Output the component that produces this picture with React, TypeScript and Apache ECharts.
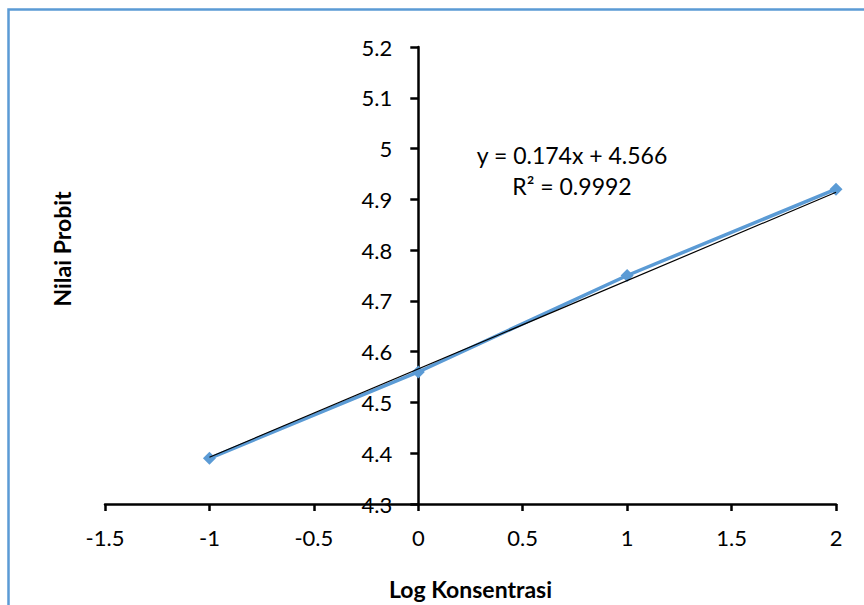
import React, { useEffect, useRef } from "react";
import * as echarts from "echarts";

const logKonsentrasi = [-1, 0, 1, 2];
const nilaiProbit = [4.39, 4.56, 4.75, 4.92];
const slope = 0.174;
const intercept = 4.566;
const trendX = [-1, 2];
const equationLines = ["y = 0.174x + 4.566", "R² = 0.9992"];

const X_MIN = -1.5;
const X_MAX = 2;
const GRID_LEFT = 105;
const GRID_RIGHT = 28;
const CHART_W = 864;

export default function App() {
  const ref = useRef<HTMLDivElement>(null);
  useEffect(() => {
    document.body.style.margin = "0";
    const chart = echarts.init(ref.current!, null, { renderer: "svg" });
    const font = "Lato, 'Open Sans', sans-serif";
    const gridW = CHART_W - GRID_LEFT - GRID_RIGHT;
    const zeroOffset = ((0 - X_MIN) / (X_MAX - X_MIN)) * gridW;
    chart.setOption({
      animation: false,
      backgroundColor: "#ffffff",
      textStyle: { fontFamily: font },
      grid: { left: GRID_LEFT, right: GRID_RIGHT, top: 47, bottom: 98, containLabel: false },
      xAxis: {
        type: "value",
        min: X_MIN,
        max: X_MAX,
        interval: 0.5,
        splitLine: { show: false },
        axisLine: { show: true, onZero: false, lineStyle: { color: "#000", width: 2.5 } },
        axisTick: { show: true, length: 7, lineStyle: { color: "#000", width: 2.5 } },
        axisLabel: { color: "#000", fontSize: 22, margin: 22, fontFamily: font },
        name: "Log Konsentrasi",
        nameLocation: "middle",
        nameGap: 73,
        nameTextStyle: { color: "#000", fontSize: 23, fontWeight: "bold", fontFamily: font },
      },
      yAxis: {
        type: "value",
        min: 4.3,
        max: 5.2,
        interval: 0.1,
        offset: -zeroOffset,
        splitLine: { show: false },
        axisLine: { show: true, onZero: false, lineStyle: { color: "#000", width: 2.5 } },
        axisTick: { show: true, length: 8, lineStyle: { color: "#000", width: 2.5 } },
        axisLabel: {
          color: "#000",
          fontSize: 22,
          margin: 26,
          fontFamily: font,
          formatter: (v: number) => String(Math.round(v * 10) / 10),
        },
      },
      graphic: [
        {
          type: "rect",
          shape: { x: 8.5, y: 9.5, width: 1000, height: 1000 },
          style: { fill: "none", stroke: "#5B9BD5", lineWidth: 2.5 },
          silent: true,
        },
        {
          type: "text",
          x: 62,
          y: 249,
          rotation: Math.PI / 2,
          style: {
            text: "Nilai Probit",
            fill: "#000",
            font: `bold 23px ${font}`,
            align: "center",
            verticalAlign: "middle",
          },
        },
        {
          type: "text",
          x: 572,
          y: 155,
          style: {
            text: equationLines[0],
            fill: "#000",
            font: `23px ${font}`,
            align: "center",
            verticalAlign: "middle",
          },
        },
        {
          type: "text",
          x: 572,
          y: 186,
          style: {
            text: equationLines[1],
            fill: "#000",
            font: `23px ${font}`,
            align: "center",
            verticalAlign: "middle",
          },
        },
      ],
      series: [
        {
          type: "line",
          data: logKonsentrasi.map((x, i) => [x, nilaiProbit[i]]),
          lineStyle: { color: "#5B9BD5", width: 3.5 },
          itemStyle: { color: "#5B9BD5" },
          symbol: "diamond",
          symbolSize: 13,
          z: 2,
        },
        {
          type: "line",
          data: trendX.map((x) => [x, slope * x + intercept]),
          lineStyle: { color: "#000", width: 1.2 },
          symbol: "none",
          z: 3,
        },
      ],
    });
    return () => chart.dispose();
  }, []);
  return <div ref={ref} style={{ width: CHART_W, height: 605 }} />;
}
